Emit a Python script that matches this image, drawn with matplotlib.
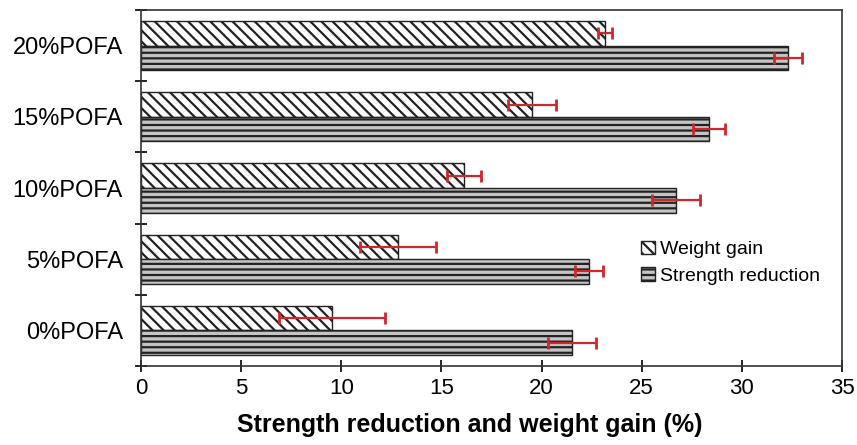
import numpy as np
import matplotlib.pyplot as plt
from matplotlib.ticker import FixedLocator

plt.rcParams['font.family'] = ['Liberation Sans', 'DejaVu Sans']
plt.rcParams['hatch.linewidth'] = 1.6

groups = ['0%POFA', '5%POFA', '10%POFA', '15%POFA', '20%POFA']
weight_gain = [9.55, 12.85, 16.15, 19.5, 23.15]
weight_err = [2.65, 1.9, 0.85, 1.2, 0.35]
strength_red = [21.5, 22.35, 26.7, 28.35, 32.3]
strength_err = [1.2, 0.7, 1.2, 0.8, 0.7]

y = np.arange(len(groups))
h = 0.345
red = '#d0262b'

fig = plt.figure(figsize=(8.57, 4.45), dpi=100)
ax = fig.add_axes([0.1645, 0.1775, 0.818, 0.8])

ax.barh(y + h / 2, weight_gain, height=h, color='white', edgecolor='#222222',
        hatch='\\\\\\', linewidth=1.0, label='Weight gain')
ax.barh(y - h / 2, strength_red, height=h, color='#c4c4c4', edgecolor='#222222',
        hatch='---', linewidth=1.0, label='Strength reduction')

ax.errorbar(weight_gain, y + h / 2, xerr=weight_err, fmt='none', ecolor=red,
            elinewidth=1.6, capsize=4, capthick=2)
ax.errorbar(strength_red, y - h / 2, xerr=strength_err, fmt='none', ecolor=red,
            elinewidth=1.6, capsize=4, capthick=2)

ax.set_xlim(0, 35)
ax.set_ylim(-0.5, 4.5)
ax.set_xticks(np.arange(0, 36, 5))
ax.set_yticks(y)
ax.set_yticklabels(groups)
ax.yaxis.set_minor_locator(FixedLocator(np.arange(-0.5, 5, 1.0)))
ax.tick_params(axis='y', which='major', length=0, pad=13, labelsize=17)
ax.tick_params(axis='y', which='minor', length=9, direction='inout', width=1.2)
ax.tick_params(axis='x', length=9, direction='inout', width=1.2, labelsize=16, pad=4)

for s in ax.spines.values():
    s.set_linewidth(1.2)
    s.set_color('#333333')

ax.set_xlabel('Strength reduction and weight gain (%)', fontsize=18,
              fontweight='bold')
ax.xaxis.label.set_va('center')
ax.xaxis.set_label_coords(0.469, -0.165)

ax.legend(loc='center left', bbox_to_anchor=(0.70, 0.29), frameon=False,
          fontsize=14, handlelength=0.7, handleheight=0.7, handletextpad=0.25,
          labelspacing=0.45, borderpad=0)

fig.savefig('out.png', dpi=100)
